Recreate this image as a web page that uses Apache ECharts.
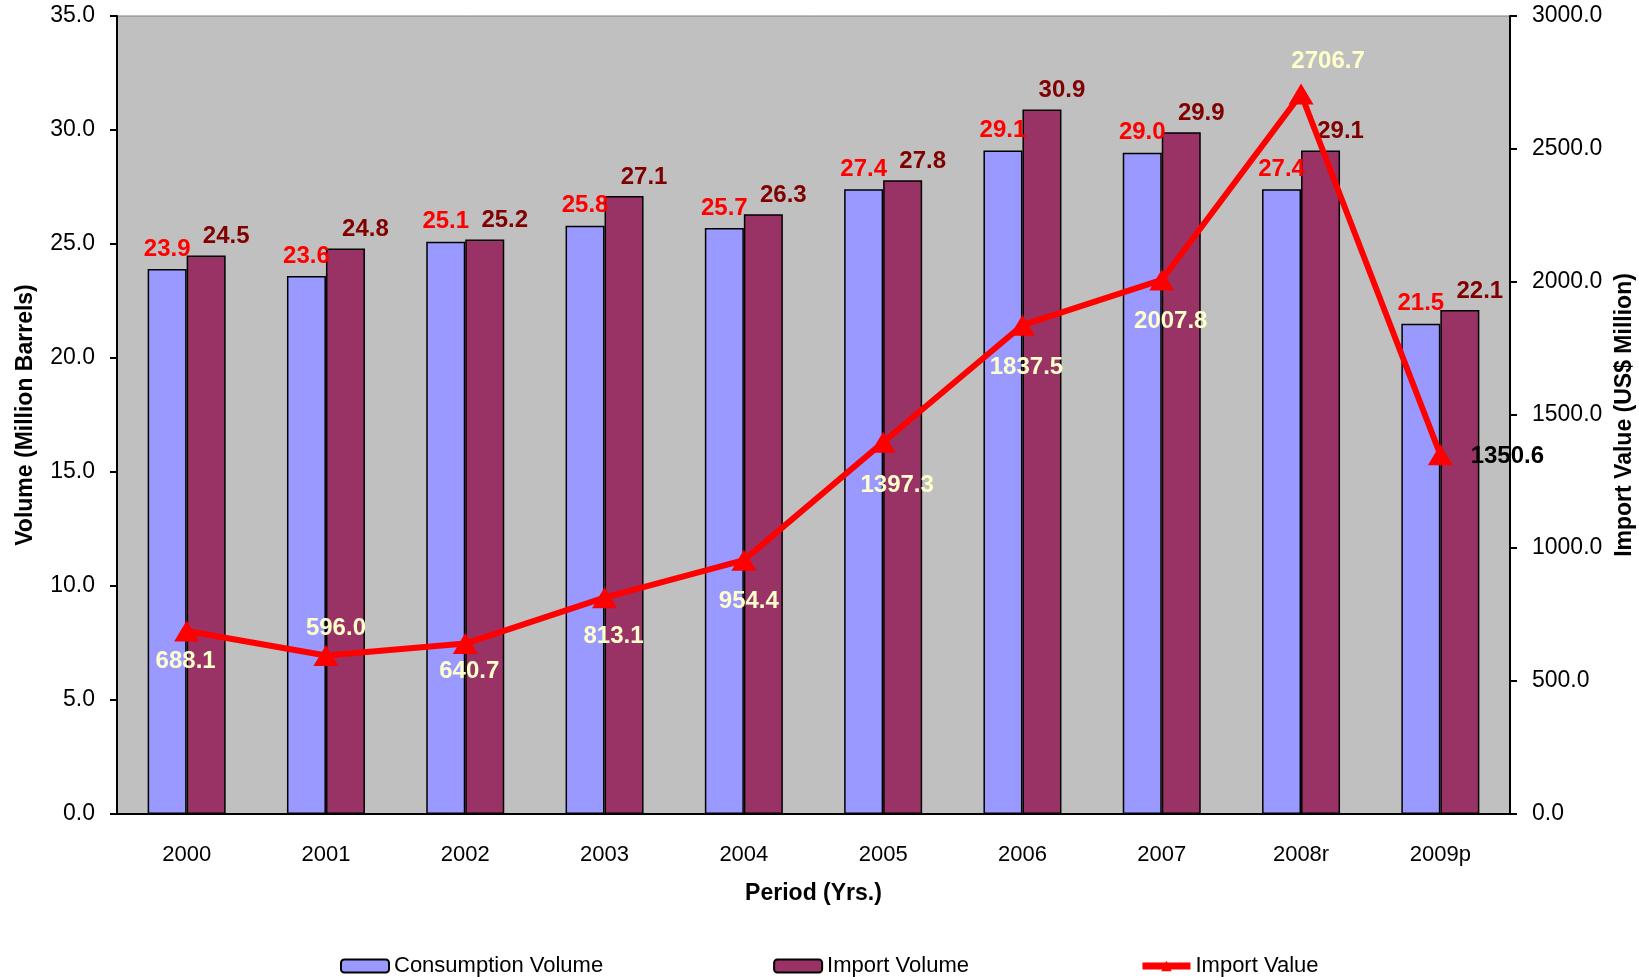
<!DOCTYPE html>
<html lang="en">
<head>
    <meta charset="UTF-8">
    <title>Consumption and Import</title>
    <style>
        html, body { margin: 0; padding: 0; background: #fff; }
    </style>
</head>
<body>
<!-- chart container -->
<div id="main" style="width: 1639px;height:977px;"></div>

<script src="https://cdn.jsdelivr.net/npm/echarts@6/dist/echarts.min.js"></script>

<script type="text/javascript">
    // data
    var periods = ['2000', '2001', '2002', '2003', '2004', '2005', '2006', '2007', '2008r', '2009p'];
    var consumptionVolume = [23.9, 23.6, 25.1, 25.8, 25.7, 27.4, 29.1, 29.0, 27.4, 21.5];
    var importVolume = [24.5, 24.8, 25.2, 27.1, 26.3, 27.8, 30.9, 29.9, 29.1, 22.1];
    var importValue = [688.1, 596.0, 640.7, 813.1, 954.4, 1397.3, 1837.5, 2007.8, 2706.7, 1350.6];

    // label placement for the line (from the original chart)
    var valueLabelOffsets = [[-1, 30], [10, -27], [4, 28], [9, 39], [5, 41], [14, 43], [4, 42], [9, 41], [27, -33], [67, 2]];

    var font = 'Liberation Sans, Arial, sans-serif';

    var lineData = [];
    for (var i = 0; i < importValue.length; i++) {
        lineData.push({
            value: importValue[i],
            label: {
                offset: valueLabelOffsets[i],
                color: i === importValue.length - 1 ? '#000000' : '#FFFFCC'
            }
        });
    }

    var myChart = echarts.init(document.getElementById('main'));

    var option = {
        animation: false,
        textStyle: { fontFamily: font },
        grid: {
            left: 117,
            right: 129,
            top: 16,
            bottom: 163,
            containLabel: false,
            outerBoundsMode: 'none',
            show: true,
            backgroundColor: '#C0C0C0',
            borderColor: '#808080',
            borderWidth: 1
        },
        legend: {
            left: 335,
            top: 950,
            itemWidth: 48,
            itemHeight: 13,
            itemGap: 170,
            lineStyle: { width: 7 },
            textStyle: { fontFamily: font, fontSize: 22, color: '#000' },
            data: ['Consumption Volume', 'Import Volume', 'Import Value']
        },
        xAxis: {
            type: 'category',
            data: periods,
            name: 'Period (Yrs.)',
            nameLocation: 'middle',
            nameGap: 68,
            nameTextStyle: { fontFamily: font, fontSize: 23, fontWeight: 'bold', color: '#000' },
            axisLine: { lineStyle: { color: '#000', width: 2 } },
            axisTick: { length: 7, lineStyle: { color: '#000', width: 2 } },
            axisLabel: { margin: 30, fontSize: 22, color: '#000', fontFamily: font }
        },
        yAxis: [
            {
                type: 'value',
                min: 0,
                max: 35,
                interval: 5,
                name: 'Volume (Million Barrels)',
                nameLocation: 'middle',
                nameRotate: 90,
                nameGap: 80,
                nameTextStyle: { fontFamily: font, fontSize: 23, fontWeight: 'bold', color: '#000' },
                axisLine: { show: true, lineStyle: { color: '#000', width: 2 } },
                axisTick: { show: true, length: 7, lineStyle: { color: '#000', width: 2 } },
                splitLine: { show: false },
                axisLabel: {
                    margin: 22, fontSize: 23, color: '#000', fontFamily: font,
                    formatter: function (v) { return v.toFixed(1); }
                }
            },
            {
                type: 'value',
                min: 0,
                max: 3000,
                interval: 500,
                position: 'right',
                name: 'Import Value (US$ Million)',
                nameLocation: 'middle',
                nameRotate: 90,
                nameGap: 100,
                nameTextStyle: { fontFamily: font, fontSize: 23, fontWeight: 'bold', color: '#000' },
                axisLine: { show: true, lineStyle: { color: '#000', width: 2 } },
                axisTick: { show: true, length: 7, lineStyle: { color: '#000', width: 2 } },
                splitLine: { show: false },
                axisLabel: {
                    margin: 22, fontSize: 23, color: '#000', fontFamily: font,
                    formatter: function (v) { return v.toFixed(1); }
                }
            }
        ],
        series: [
            {
                name: 'Consumption Volume',
                type: 'bar',
                barWidth: 39,
                barGap: '0%',
                data: consumptionVolume,
                itemStyle: { color: '#9999FF', borderColor: '#000', borderWidth: 1.5 },
                label: {
                    show: true,
                    position: 'top',
                    distance: 8,
                    color: '#FF0000',
                    fontSize: 24,
                    fontWeight: 'bold',
                    fontFamily: font,
                    formatter: function (p) { return p.value.toFixed(1); }
                }
            },
            {
                name: 'Import Volume',
                type: 'bar',
                barWidth: 39,
                barGap: '0%',
                data: importVolume,
                itemStyle: { color: '#993366', borderColor: '#000', borderWidth: 1.5 },
                label: {
                    show: true,
                    position: 'top',
                    distance: 7,
                    offset: [20, 0],
                    color: '#800000',
                    fontSize: 24,
                    fontWeight: 'bold',
                    fontFamily: font,
                    formatter: function (p) { return p.value.toFixed(1); }
                }
            },
            {
                name: 'Import Value',
                type: 'line',
                yAxisIndex: 1,
                data: lineData,
                symbol: 'triangle',
                symbolSize: [25, 21],
                lineStyle: { color: '#FF0000', width: 6 },
                itemStyle: { color: '#FF0000' },
                z: 5,
                label: {
                    show: true,
                    position: 'inside',
                    fontSize: 24,
                    fontWeight: 'bold',
                    fontFamily: font,
                    formatter: function (p) { return p.value.toFixed(1); }
                }
            }
        ]
    };

    myChart.setOption(option);
</script>
</body>
</html>
